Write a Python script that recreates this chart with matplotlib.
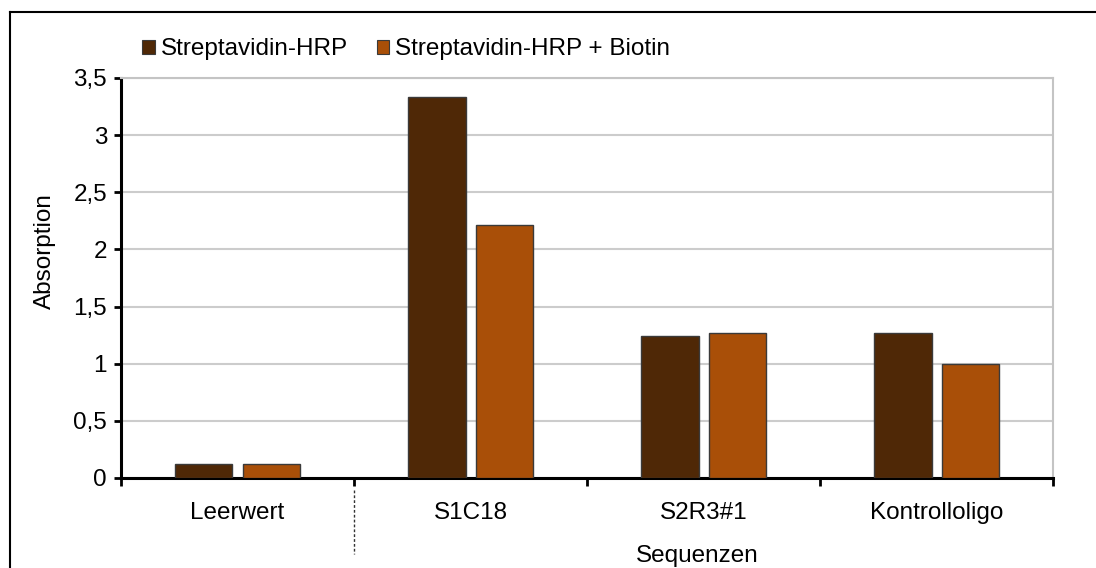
import matplotlib
matplotlib.use("Agg")
import matplotlib.pyplot as plt
from matplotlib.patches import Patch
from matplotlib.lines import Line2D
from matplotlib.ticker import FuncFormatter
import numpy as np

plt.rcParams['font.family'] = ['Liberation Sans', 'DejaVu Sans']

# data
categories = ["Leerwert", "S1C18", "S2R3#1", "Kontrolloligo"]
strep_hrp = [0.12, 3.33, 1.24, 1.27]
strep_hrp_biotin = [0.12, 2.21, 1.27, 1.00]
series_names = ["Streptavidin-HRP", "Streptavidin-HRP + Biotin"]
colors = ["#4F2806", "#A94F08"]
yticks = [0, 0.5, 1, 1.5, 2, 2.5, 3, 3.5]

fs = 17.5

fig = plt.figure(figsize=(10.96, 5.68), dpi=100)
ax = fig.add_axes([0.1104, 0.1585, 0.8504, 0.7042])

x = np.arange(len(categories))
w = 0.245
off = 0.144
ax.bar(x - off, strep_hrp, w, color=colors[0], edgecolor="#3a3a3a", linewidth=1, zorder=3)
ax.bar(x + off, strep_hrp_biotin, w, color=colors[1], edgecolor="#3a3a3a", linewidth=1, zorder=3)

ax.set_xlim(-0.5, len(categories) - 0.5)
ax.set_ylim(0, 3.5)
ax.set_yticks(yticks)
ax.yaxis.set_major_formatter(FuncFormatter(lambda v, p: f"{v:g}".replace(".", ",")))
ax.grid(axis="y", color="#cccccc", linewidth=1.5, zorder=0)

# category boundaries as major ticks, names as minor ticks
ax.set_xticks(np.arange(-0.5, len(categories)))
ax.set_xticklabels([])
ax.set_xticks(x, minor=True)
ax.set_xticklabels(categories, minor=True)
ax.tick_params(axis="x", which="major", direction="out", length=6, width=2)
ax.tick_params(axis="x", which="minor", length=0, pad=17, labelsize=fs)
ax.tick_params(axis="y", direction="out", length=5, width=2, pad=5, labelsize=fs)

for s in ["left", "bottom"]:
    ax.spines[s].set_linewidth(2.2)
    ax.spines[s].set_color("black")
for s in ["top", "right"]:
    ax.spines[s].set_linewidth(1.5)
    ax.spines[s].set_color("#c4c4c4")

ax.set_ylabel("Absorption", fontsize=fs)
ax.yaxis.set_label_coords(-0.070, 0.5675)
ax.text((697 - 121) / 932, -0.195, "Sequenzen", transform=ax.transAxes,
        ha="center", va="center", fontsize=fs)

# dashed separator below the blank value
ax.plot([0.5, 0.5], [-0.03, -0.19], transform=ax.get_xaxis_transform(),
        color="#333333", linestyle=(0, (2, 1.5)), linewidth=1, clip_on=False)

handles = [Patch(facecolor=c, edgecolor="#3a3a3a", linewidth=0.8) for c in colors]
fig.legend(handles, series_names, loc="center left", bbox_to_anchor=(0.13, 0.913),
           ncol=2, frameon=False, fontsize=fs, handlelength=0.5, handleheight=0.5,
           handletextpad=0.25, columnspacing=1.2, borderpad=0, borderaxespad=0)

# outer frame lines
fig.add_artist(Line2D([0.0091, 0.0091], [0, 0.9789], color="black", linewidth=1.5))
fig.add_artist(Line2D([0.0091, 1], [0.9789, 0.9789], color="black", linewidth=1.5))

fig.savefig("out.png", dpi=100)
